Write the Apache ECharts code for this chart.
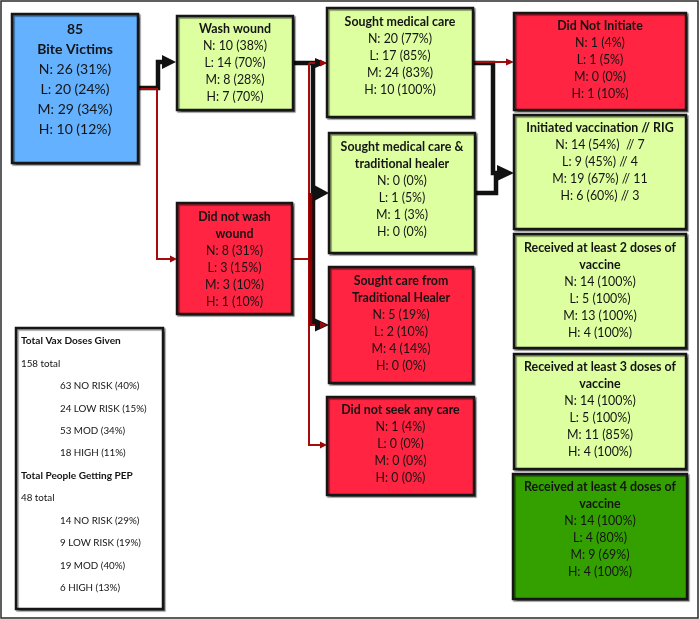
<!DOCTYPE html>
<html>
<head>
<meta charset="utf-8">
<script src="https://cdn.jsdelivr.net/npm/echarts@6/dist/echarts.min.js"></script>
<style>html,body{margin:0;padding:0;background:#fff}#chart{width:700px;height:619px}</style>
</head>
<body>
<div id="chart"></div>
<script>
// ---------- DATA ----------
const nodeTitles = [
  '85\nBite Victims',
  'Wash wound',
  'Did not wash\nwound',
  'Sought medical care',
  'Sought medical care &\ntraditional healer',
  'Sought care from\nTraditional Healer',
  'Did not seek any care',
  'Did Not Initiate',
  'Initiated vaccination // RIG',
  'Received at least 2 doses of\nvaccine',
  'Received at least 3 doses of\nvaccine',
  'Received at least 4 doses of\nvaccine'
];
const riskGroups = ['N', 'L', 'M', 'H'];
const countN = [26, 10, 8, 20, 0, 5, 1, 1, 14, 14, 14, 14];
const pctN   = [31, 38, 31, 77, 0, 19, 4, 4, 54, 100, 100, 100];
const countL = [20, 14, 3, 17, 1, 2, 0, 1, 9, 5, 5, 4];
const pctL   = [24, 70, 15, 85, 5, 10, 0, 5, 45, 100, 100, 80];
const countM = [29, 8, 3, 24, 1, 4, 0, 0, 19, 13, 11, 9];
const pctM   = [34, 28, 10, 83, 3, 14, 0, 0, 67, 100, 85, 69];
const countH = [10, 7, 1, 10, 0, 0, 0, 1, 6, 4, 4, 4];
const pctH   = [12, 70, 10, 100, 0, 0, 0, 10, 60, 100, 100, 100];
const rigNode = 8;
const rigCounts = [7, 4, 11, 3];

const summaryHeader1 = 'Total Vax Doses Given';
const vaxTotal = 158;
const riskLabels = ['NO RISK', 'LOW RISK', 'MOD', 'HIGH'];
const vaxDoses = [63, 24, 53, 18];
const vaxPct = [40, 15, 34, 11];
const summaryHeader2 = 'Total People Getting PEP';
const pepTotal = 48;
const pepPeople = [14, 9, 19, 6];
const pepPct = [29, 19, 40, 13];

// ---------- LAYOUT / STYLE (not data) ----------
// box: [x0, y0, x1, y1, firstLineY, lineStep, fontSize]
const nodeLayout = [
  [12, 14, 138, 163, 29, 20, 14],
  [177, 16, 293, 110, 29, 17, 12.4],
  [177, 203, 292, 314, 217, 17, 12.4],
  [327, 8, 473, 117, 22, 17, 12.4],
  [329, 133, 475, 253, 147, 17, 12.4],
  [329, 267, 473, 383, 281, 17, 12.4],
  [327, 397, 474, 495, 410, 17, 12.4],
  [514, 13, 686, 110, 26, 17, 12.4],
  [514, 115, 686, 229, 128, 17, 12.4],
  [514, 234, 686, 348, 248, 17, 12.4],
  [514, 354, 686, 469, 367, 17, 12.4],
  [513, 474, 687, 599, 487, 17, 12.4]
];
const nodeKind = ['root', 'yes', 'no', 'yes', 'yes', 'no', 'no', 'no', 'yes', 'yes', 'yes', 'done'];
const kindFill = { root: '#63B1FF', yes: '#DDFFA0', no: '#FF2442', done: '#33A000' };
const FONT = 'Lato, "Open Sans", sans-serif';
const TXT = '#141414';

// connectors: polylines in layout coords
const blackLines = [
  [[138, 88], [158, 88], [158, 62], [165, 62]],
  [[293, 63], [313, 63], [313, 326]],
  [[313, 193], [318, 193]],
  [[473, 63], [493, 63], [493, 173], [500, 173]],
  [[475, 193], [496, 193], [496, 171]]
];
// arrows: [tipX, y, length, halfHeight, color]
const arrows = [
  [176, 62, 14, 7, '#111'],
  [327, 63, 12, 5, '#111'],
  [329, 193, 14, 7.5, '#111'],
  [329, 325, 14, 6.5, '#111'],
  [514, 173, 17, 8, '#111'],
  [177, 259, 7, 3.5, '#9b0a0a'],
  [327, 63, 7, 3.5, '#9b0a0a'],
  [327, 325, 7, 3.5, '#9b0a0a'],
  [327, 445, 7, 3.5, '#9b0a0a'],
  [514, 62, 8, 3.5, '#9b0a0a']
];
const redLines = [
  [[138, 89], [157, 89], [157, 259], [171, 259], 2],
  [[292, 259], [309, 259], 2],
  [[309, 63], [309, 445], [321, 445], 2],
  [[309, 63], [321, 63], 2],
  [[309, 325], [321, 325], 2],
  [[310.5, 193], [310.5, 326], 3.5],
  [[473, 62], [507, 62], 2]
];
const summaryBox = [16, 328, 163, 609];
const summaryX = [21, 60];
const summaryY0 = 341, summaryStep = 22.45;

function pctLine(g, c, p, extra) {
  return g + ': ' + c + ' (' + p + '%)' + (extra || '');
}
function nodeLines(i) {
  const lines = nodeTitles[i].split('\n').map(t => ({ t, bold: true }));
  const counts = [countN, countL, countM, countH];
  const pcts = [pctN, pctL, pctM, pctH];
  riskGroups.forEach((g, k) => {
    let extra = '';
    if (i === rigNode) extra = (k === 0 ? '  // ' : ' // ') + rigCounts[k];
    lines.push({ t: pctLine(g, counts[k][i], pcts[k][i], extra), bold: false });
  });
  return lines;
}

const chart = echarts.init(document.getElementById('chart'), null, { renderer: 'canvas' });

function P(api, x, y) { return api.coord([x, y]); }

const option = {
  animation: false,
  backgroundColor: '#fff',
  grid: { left: 0, right: 0, top: 0, bottom: 0 },
  xAxis: { type: 'value', min: 0, max: 700, show: false },
  yAxis: { type: 'value', min: 0, max: 619, inverse: true, show: false },
  series: [
    // frame
    {
      type: 'custom', clip: false, silent: true, z: 1,
      data: [[0, 0]],
      renderItem: (params, api) => {
        const a = P(api, 1, 1), b = P(api, 698, 618);
        return { type: 'rect', shape: { x: a[0], y: a[1], width: b[0] - a[0], height: b[1] - a[1] },
          style: { fill: 'none', stroke: '#2a2a2a', lineWidth: 1.5 } };
      }
    },
    // connectors black
    {
      type: 'custom', clip: false, silent: true, z: 2,
      data: blackLines.map((l, i) => [i, 0]),
      renderItem: (params, api) => {
        const l = blackLines[params.dataIndex];
        return { type: 'polyline', shape: { points: l.map(p => P(api, p[0], p[1])) },
          style: { stroke: '#111', lineWidth: 4.5, fill: 'none', lineJoin: 'miter' } };
      }
    },
    // connectors red
    {
      type: 'custom', clip: false, silent: true, z: 3,
      data: redLines.map((l, i) => [i, 0]),
      renderItem: (params, api) => {
        const l = redLines[params.dataIndex];
        const w = l[l.length - 1];
        const pts = l.slice(0, -1);
        return { type: 'polyline', shape: { points: pts.map(p => P(api, p[0], p[1])) },
          style: { stroke: w > 3 ? '#8a0000' : '#a50d0d', lineWidth: w, fill: 'none', lineJoin: 'miter' } };
      }
    },
    // arrowheads
    {
      type: 'custom', clip: false, silent: true, z: 4,
      data: arrows.map((a, i) => [i, 0]),
      renderItem: (params, api) => {
        const a = arrows[params.dataIndex];
        const pts = [P(api, a[0], a[1]), P(api, a[0] - a[2], a[1] - a[3]), P(api, a[0] - a[2], a[1] + a[3])];
        return { type: 'polygon', shape: { points: pts }, style: { fill: a[4] } };
      }
    },
    // boxes
    {
      type: 'custom', clip: false, silent: true, z: 5,
      data: nodeTitles.map((t, i) => [i, 0]),
      renderItem: (params, api) => {
        const i = params.dataIndex;
        const L = nodeLayout[i];
        const a = P(api, L[0], L[1]), b = P(api, L[2], L[3]);
        const cx = (a[0] + b[0]) / 2;
        const children = [{
          type: 'rect',
          shape: { x: a[0], y: a[1], width: b[0] - a[0], height: b[1] - a[1] },
          style: { fill: kindFill[nodeKind[i]], stroke: '#161616', lineWidth: 2.5,
            shadowColor: 'rgba(0,0,0,0.45)', shadowOffsetX: 1.5, shadowOffsetY: 1.5, shadowBlur: 1 }
        }];
        nodeLines(i).forEach((ln, k) => {
          const y = P(api, 0, L[4] + k * L[5])[1];
          children.push({
            type: 'text',
            style: { text: ln.t, x: cx, y: y, align: 'center', verticalAlign: 'middle', fill: TXT,
              font: (ln.bold ? 'bold ' : '') + L[6] + 'px ' + FONT }
          });
        });
        return { type: 'group', children };
      }
    },
    // summary box
    {
      type: 'custom', clip: false, silent: true, z: 5,
      data: [[0, 0]],
      renderItem: (params, api) => {
        const a = P(api, summaryBox[0], summaryBox[1]), b = P(api, summaryBox[2], summaryBox[3]);
        const children = [{
          type: 'rect', shape: { x: a[0], y: a[1], width: b[0] - a[0], height: b[1] - a[1] },
          style: { fill: '#fff', stroke: '#161616', lineWidth: 2.5,
            shadowColor: 'rgba(0,0,0,0.4)', shadowOffsetX: 1.5, shadowOffsetY: 1.5, shadowBlur: 1 }
        }];
        const rows = [];
        rows.push({ t: summaryHeader1, bold: true, ind: 0 });
        rows.push({ t: vaxTotal + ' total', bold: false, ind: 0 });
        riskLabels.forEach((r, k) => rows.push({ t: vaxDoses[k] + ' ' + r + ' (' + vaxPct[k] + '%)', bold: false, ind: 1 }));
        rows.push({ t: summaryHeader2, bold: true, ind: 0 });
        rows.push({ t: pepTotal + ' total', bold: false, ind: 0 });
        riskLabels.forEach((r, k) => rows.push({ t: pepPeople[k] + ' ' + r + ' (' + pepPct[k] + '%)', bold: false, ind: 1 }));
        rows.forEach((r, k) => {
          const p = P(api, summaryX[r.ind], summaryY0 + k * summaryStep);
          children.push({ type: 'text', style: { text: r.t, x: p[0], y: p[1], align: 'left', verticalAlign: 'middle',
            fill: TXT, font: (r.bold ? 'bold 10.1px ' : '9.8px ') + FONT } });
        });
        return { type: 'group', children };
      }
    }
  ]
};
chart.setOption(option);
</script>
</body>
</html>
